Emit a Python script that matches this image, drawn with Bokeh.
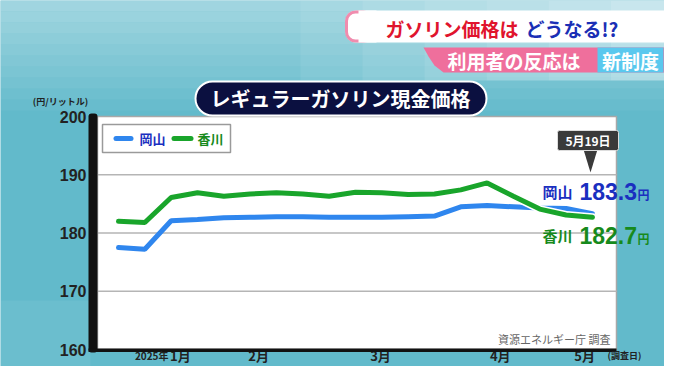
from bokeh.plotting import figure
from bokeh.models import Range1d, Label, BoxAnnotation, PolyAnnotation
from bokeh.core.properties import value
from bokeh.embed import file_html
from bokeh.resources import INLINE

# ---------------- data ----------------
week_index = list(range(19))
okayama = [177.5, 177.2, 182.1, 182.3, 182.6, 182.7, 182.8, 182.8, 182.7, 182.7,
           182.7, 182.8, 182.9, 184.5, 184.7, 184.5, 184.3, 184.2, 183.3]
kagawa = [182.0, 181.8, 186.1, 186.9, 186.3, 186.7, 186.9, 186.7, 186.3, 187.0,
          186.9, 186.6, 186.7, 187.4, 188.6, 186.3, 184.1, 183.1, 182.7]
month_labels = ["1月", "2月", "3月", "4月", "5月"]
month_pos = [2.35, 5.32, 9.95, 14.5, 17.7]
y_ticks = [160, 170, 180, 190, 200]
grid_ticks = [170, 180, 190]
series_names = ["岡山", "香川"]
latest_date = "5月19日"
latest_values = ["183.3", "182.7"]

# ---------------- layout (pixel geometry of the picture) ----------------
W, H = 664, 366
X_FIRST, X_STEP = 118, 26.33         # px of first week, px per week
Y_BASE_PX, PX_PER_UNIT = 349, 5.825  # px of 160, px per yen
Y_LO = y_ticks[0]

JP = "Noto Sans CJK JP"
NUM = "Liberation Sans"
BLUE = "#2f86ee"
GREEN = "#19a52b"
BLUE_T = "#1a2fc0"
GREEN_T = "#178a1c"
TEAL = "#62bacb"


def dx(X):
    return (X - X_FIRST) / X_STEP


def dy(Y):
    return Y_LO + (Y_BASE_PX - Y) / PX_PER_UNIT


p = figure(width=W, height=H, output_backend="svg", toolbar_location=None,
           x_axis_type=None, y_axis_type=None, min_border=0,
           x_range=Range1d(dx(0), dx(W)), y_range=Range1d(dy(H), dy(0)))
p.border_fill_color = TEAL
p.background_fill_color = TEAL
p.outline_line_color = None
p.grid.visible = False


def box(X0, Y0, X1, Y1, fill, alpha=1.0, line=None, lw=1, radius=0, level="annotation"):
    b = BoxAnnotation(left=dx(X0), right=dx(X1), top=dy(Y0), bottom=dy(Y1),
                      fill_color=fill, fill_alpha=alpha, line_color=line,
                      line_width=lw, line_alpha=1.0, level=level)
    if radius:
        b.border_radius = radius
    p.add_layout(b)


def poly(pts, fill, level="annotation"):
    p.add_layout(PolyAnnotation(xs=[dx(a) for a, _ in pts], ys=[dy(b) for _, b in pts],
                                fill_color=fill, fill_alpha=1.0, line_color=None, level=level))


def label(X, Y, text, size, color, align="center", font=JP, style="bold"):
    p.add_layout(Label(x=dx(X), y=dy(Y), text=text, text_align=align,
                       text_baseline="middle", text_font=font,
                       text_font_size=f"{size}px", text_font_style=style,
                       text_color=color))


# background shading (lighter towards top and top-right)
for i in range(10):
    y0 = i * 11
    box(0, y0, W, y0 + 11, "white", alpha=0.40 * (1 - i / 10), level="underlay")
for i in range(6):
    x0 = 300 + i * 62
    box(x0, 0, x0 + 62, 80, "white", alpha=0.07 * (i + 1), level="underlay")
box(0, 300, 90, H, "white", alpha=0.06, level="underlay")

# white plot panel
box(97, 116, 616, 349, "white", line="#a8a8a8", lw=1.5, level="underlay")

# grid lines
p.segment(x0=[dx(97)] * len(grid_ticks), x1=[dx(616)] * len(grid_ticks),
          y0=grid_ticks, y1=grid_ticks, line_color="#b5b5b5", line_width=1.5)

# y tick labels
p.text(x=[dx(86)] * len(y_ticks), y=y_ticks, text=[str(t) for t in y_ticks],
       text_align="right", text_baseline="middle", text_font=value(NUM),
       text_font_size=value("16px"), text_font_style="bold", text_color="#222222")

# x tick labels
p.text(x=month_pos, y=[dy(355)] * len(month_pos), text=month_labels,
       text_align="center", text_baseline="middle", text_font=value(JP),
       text_font_size=value("13px"), text_font_style="bold", text_color="#222222")

# ---------------- series ----------------
p.line(week_index, okayama, line_color=BLUE, line_width=5, line_cap="round")
p.line(week_index, kagawa, line_color="white", line_width=8, line_cap="round")
p.line(week_index, kagawa, line_color=GREEN, line_width=5, line_cap="round")

# ---------------- axis bars ----------------
box(88, 113, 97, 352, "#111111", radius=3)
box(88, 348, 616, 351.5, "#111111")

# ---------------- header ----------------
box(345, 10, 700, 42, "white", radius=10)
box(346, 11.5, 372, 40.5, None, line="#f08cae", lw=3, radius=9)
box(358, 10, 376, 42, "white")
label(385, 28, "ガソリン価格は", 19, "#e0142d", align="left")
label(525, 28, "どうなる!?", 19, "#1a2fb5", align="left")
poly([(423, 47), (700, 47), (700, 72), (443, 72), (434, 65), (428, 56)], "#ef6f9c")
label(447, 60, "利用者の反応は", 19, "white", align="left")
box(597, 47, 663, 72, "#5ac8ee")
label(630, 60, "新制度", 19, "white")

# chart title banner
box(195, 81, 486, 115, "#0b1040", line="white", lw=2, radius=17)
label(340, 98, "レギュラーガソリン現金価格", 20, "white")

# unit label
label(60, 101, "(円/リットル)", 9, "#222222")

# legend
box(102, 124, 230, 152, "white", line="#9a9a9a", lw=1.5)
box(113, 135.5, 133, 140.5, BLUE, radius=3)
label(139, 138, series_names[0], 13, BLUE_T, align="left")
box(171, 135.5, 193, 140.5, GREEN, radius=3)
label(197, 138, series_names[1], 13, GREEN_T, align="left")

# callout
poly([(583, 149), (597, 149), (590, 172)], "#3a3a3a")
box(557, 130, 618, 150, "#3a3a3a", line="#dddddd", lw=1, radius=2)
label(587.5, 140, latest_date, 12, "white")

# latest values
label(542, 191, series_names[0], 15, BLUE_T, align="left")
label(579, 191, latest_values[0], 23, BLUE_T, align="left", font=NUM)
label(637, 194, "円", 12, BLUE_T, align="left")
label(542, 235, series_names[1], 15, GREEN_T, align="left")
label(579, 235, latest_values[1], 23, GREEN_T, align="left", font=NUM)
label(637, 238, "円", 12, GREEN_T, align="left")

# source and axis extras
label(610, 338, "資源エネルギー庁 調査", 11, "#666666", align="right", style="normal")
label(168, 355, "2025年", 10, "#222222", align="right")
label(624, 355, "(調査日)", 9, "#222222")

open("out.html", "w").write(file_html(p, INLINE, "レギュラーガソリン現金価格"))
